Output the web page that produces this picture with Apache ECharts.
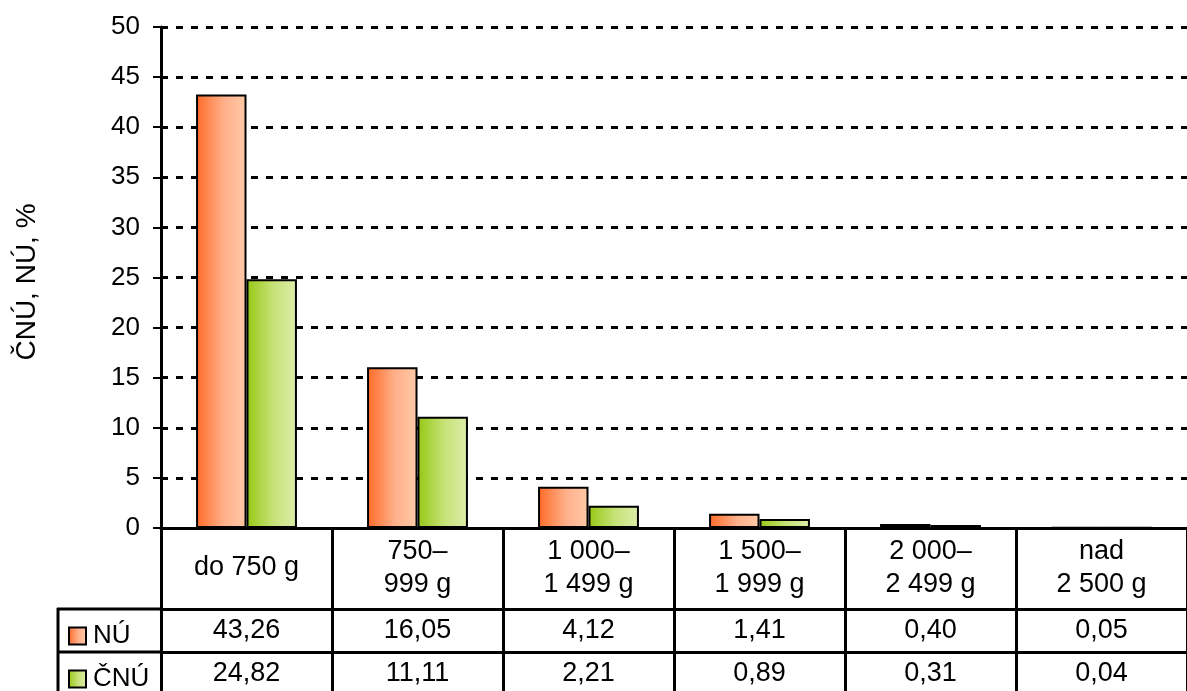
<!DOCTYPE html>
<html>
<head>
<meta charset="utf-8">
<script src="https://cdn.jsdelivr.net/npm/echarts@6/dist/echarts.min.js"></script>
<style>
  html, body { margin: 0; padding: 0; background: #fff; }
  #chart { width: 1187px; height: 691px; }
</style>
</head>
<body>
<div id="chart"></div>
<script>
  // weight groups (header row of the data table)
  var categories = ['do 750 g', '750–\n999 g', '1 000–\n1 499 g', '1 500–\n1 999 g', '2 000–\n2 499 g', 'nad\n2 500 g'];
  var seriesNames = ['NÚ', 'ČNÚ'];
  var nuValues = [43.26, 16.05, 4.12, 1.41, 0.40, 0.05];
  var cnuValues = [24.82, 11.11, 2.21, 0.89, 0.31, 0.04];
  var yTicks = { min: 0, max: 50, interval: 5 };

  var font = '"Liberation Sans", Arial, sans-serif';
  var fmt = function (v) { return v.toFixed(2).replace('.', ','); };

  var orange = new echarts.graphic.LinearGradient(0, 0, 1, 0, [
    { offset: 0, color: '#ff6a26' },
    { offset: 0.55, color: '#ffb08a' },
    { offset: 1, color: '#ffcaa8' }
  ]);
  var green = new echarts.graphic.LinearGradient(0, 0, 1, 0, [
    { offset: 0, color: '#96c814' },
    { offset: 0.55, color: '#c8e37a' },
    { offset: 1, color: '#dcedaa' }
  ]);

  var chart = echarts.init(document.getElementById('chart'));

  // rows of the table below the plot
  function tableAxis(offset, labels) {
    return {
      type: 'category',
      position: 'bottom',
      offset: offset,
      data: categories,
      axisLine: { show: true, lineStyle: { color: '#000', width: 3 } },
      axisTick: { show: false },
      axisLabel: {
        interval: 0,
        margin: 22,
        verticalAlign: 'middle',
        color: '#000',
        fontSize: 27,
        fontFamily: font,
        formatter: function (v, i) { return labels[i]; }
      }
    };
  }

  function legendRow(name, top) {
    return {
      data: [name], left: 63, top: top, orient: 'vertical',
      itemWidth: 17, itemHeight: 17, icon: 'rect',
      itemStyle: { borderColor: '#000', borderWidth: 2 },
      textStyle: { color: '#000', fontSize: 26, fontFamily: font, padding: [0, 0, 0, 2] }
    };
  }

  var option = {
    animation: false,
    backgroundColor: '#fff',
    grid: { left: 161, right: -8, top: 27, bottom: 163, containLabel: false },
    legend: [legendRow(seriesNames[0], 618), legendRow(seriesNames[1], 661)],
    xAxis: [
      {
        type: 'category',
        data: categories,
        axisLine: { show: true, lineStyle: { color: '#000', width: 3 } },
        axisTick: { show: true, length: 170, lineStyle: { color: '#000', width: 3 } },
        axisLabel: {
          interval: 0,
          margin: 40,
          verticalAlign: 'middle',
          lineHeight: 33,
          color: '#000',
          fontSize: 27,
          fontFamily: font
        }
      },
      tableAxis(81, nuValues.map(fmt)),
      tableAxis(124, cnuValues.map(fmt))
    ],
    yAxis: {
      type: 'value',
      min: yTicks.min,
      max: yTicks.max,
      interval: yTicks.interval,
      name: 'ČNÚ, NÚ, %',
      nameLocation: 'middle',
      nameGap: 120,
      nameTextStyle: { color: '#000', fontSize: 28, fontFamily: font, padding: [0, 9, 0, 0] },
      axisLine: { show: true, lineStyle: { color: '#000', width: 3 } },
      axisTick: { show: true, length: 8, lineStyle: { color: '#000', width: 2 } },
      axisLabel: { margin: 21, color: '#000', fontSize: 26, fontFamily: font },
      splitLine: { show: true, lineStyle: { color: '#000', width: 3, type: [7, 8] } }
    },
    series: [
      {
        name: seriesNames[0], type: 'bar', data: nuValues,
        barGap: '0%', barCategoryGap: '41%',
        itemStyle: { color: orange, borderColor: '#000', borderWidth: 2 }
      },
      {
        name: seriesNames[1], type: 'bar', data: cnuValues,
        barGap: '0%', barCategoryGap: '41%',
        itemStyle: { color: green, borderColor: '#000', borderWidth: 2 }
      }
    ],
    // left legend column of the table
    graphic: [
      { type: 'line', shape: { x1: 57, y1: 609, x2: 161, y2: 609 }, style: { stroke: '#000', lineWidth: 3 } },
      { type: 'line', shape: { x1: 57, y1: 652, x2: 161, y2: 652 }, style: { stroke: '#000', lineWidth: 3 } },
      { type: 'line', shape: { x1: 58, y1: 608, x2: 58, y2: 691 }, style: { stroke: '#000', lineWidth: 3 } }
    ]
  };

  chart.setOption(option);
</script>
</body>
</html>
